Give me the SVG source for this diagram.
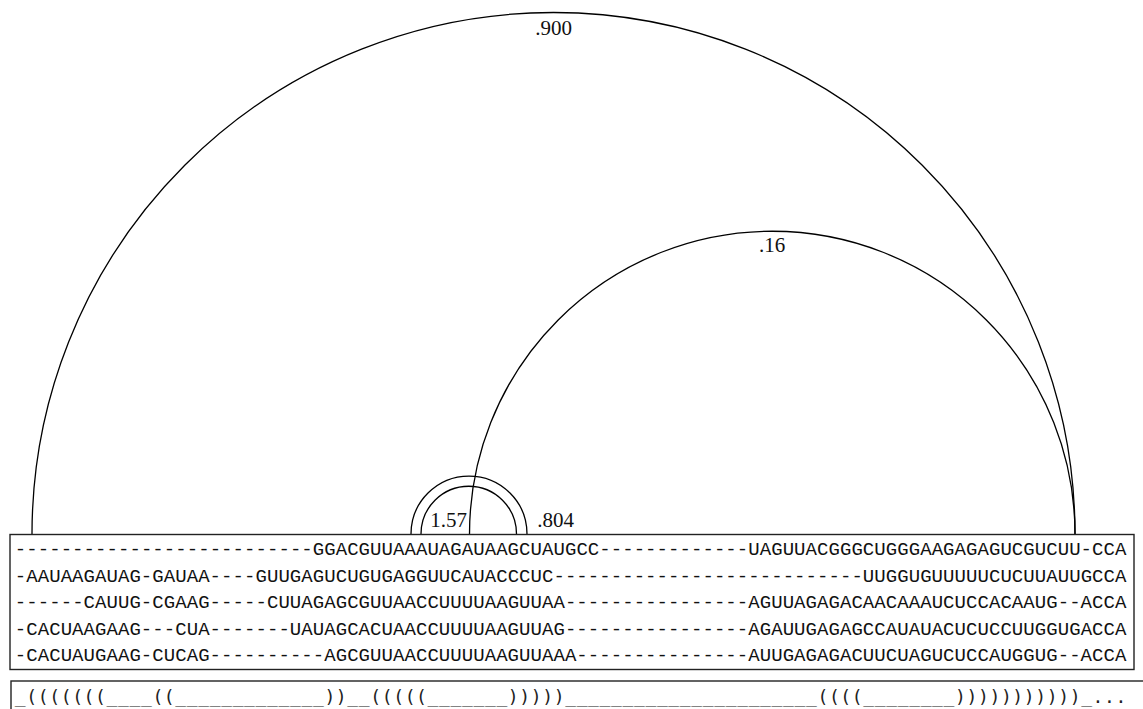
<svg xmlns="http://www.w3.org/2000/svg" width="1143" height="709" viewBox="0 0 1143 709">
<style>
.arc{fill:none;stroke:#000;stroke-width:1.3}
.lbl{font-family:"Liberation Serif","DejaVu Serif",serif;font-size:21px;fill:#111;text-anchor:middle}
.seq{font-family:"Liberation Mono","DejaVu Sans Mono",monospace;font-size:19px;fill:#111}
.ss{font-family:"DejaVu Sans Mono","Liberation Mono",monospace;font-size:18px;fill:#222}
.box{fill:none;stroke:#222;stroke-width:1.4}
</style>
<rect width="1143" height="709" fill="#fff"/>
<g id="connectors">
<path class="arc" d="M32 534 A521.5 521.5 0 0 1 1075 534"/>
<path class="arc" d="M469.5 534 A302.75 302.75 0 0 1 1075 534"/>
<path class="arc" d="M411 534 A58 58 0 0 1 527 534"/>
<path class="arc" d="M421 534 A47.75 47.75 0 0 1 516.5 534"/>
<text class="lbl" x="553.5" y="35">.900</text>
<text class="lbl" x="772" y="252">.16</text>
<text class="lbl" x="448.5" y="527">1.57</text>
<text class="lbl" x="555.5" y="527">.804</text>
</g>
<g id="alignment">
<rect class="box" x="10" y="534.5" width="1124" height="135"/>
<text class="seq" y="555"><tspan x="14.8" textLength="297.96" lengthAdjust="spacing">--------------------------</tspan><tspan x="312.76" textLength="286.5" lengthAdjust="spacing">GGACGUUAAAUAGAUAAGCUAUGCC</tspan><tspan x="599.26" textLength="148.98" lengthAdjust="spacing">-------------</tspan><tspan x="748.24" textLength="332.34" lengthAdjust="spacing">UAGUUACGGGCUGGGAAGAGAGUCGUCUU</tspan><tspan x="1080.58" textLength="11.46" lengthAdjust="spacing">-</tspan><tspan x="1092.04" textLength="34.38" lengthAdjust="spacing">CCA</tspan></text>
<text class="seq" y="581.5"><tspan x="14.8" textLength="11.46" lengthAdjust="spacing">-</tspan><tspan x="26.26" textLength="114.6" lengthAdjust="spacing">AAUAAGAUAG</tspan><tspan x="140.86" textLength="11.46" lengthAdjust="spacing">-</tspan><tspan x="152.32" textLength="57.3" lengthAdjust="spacing">GAUAA</tspan><tspan x="209.62" textLength="45.84" lengthAdjust="spacing">----</tspan><tspan x="255.46" textLength="297.96" lengthAdjust="spacing">GUUGAGUCUGUGAGGUUCAUACCCUC</tspan><tspan x="553.42" textLength="309.42" lengthAdjust="spacing">---------------------------</tspan><tspan x="862.84" textLength="263.58" lengthAdjust="spacing">UUGGUGUUUUUCUCUUAUUGCCA</tspan></text>
<text class="seq" y="608"><tspan x="14.8" textLength="68.76" lengthAdjust="spacing">------</tspan><tspan x="83.56" textLength="57.3" lengthAdjust="spacing">CAUUG</tspan><tspan x="140.86" textLength="11.46" lengthAdjust="spacing">-</tspan><tspan x="152.32" textLength="57.3" lengthAdjust="spacing">CGAAG</tspan><tspan x="209.62" textLength="57.3" lengthAdjust="spacing">-----</tspan><tspan x="266.92" textLength="297.96" lengthAdjust="spacing">CUUAGAGCGUUAACCUUUUAAGUUAA</tspan><tspan x="564.88" textLength="183.36" lengthAdjust="spacing">----------------</tspan><tspan x="748.24" textLength="309.42" lengthAdjust="spacing">AGUUAGAGACAACAAAUCUCCACAAUG</tspan><tspan x="1057.66" textLength="22.92" lengthAdjust="spacing">--</tspan><tspan x="1080.58" textLength="45.84" lengthAdjust="spacing">ACCA</tspan></text>
<text class="seq" y="634.5"><tspan x="14.8" textLength="11.46" lengthAdjust="spacing">-</tspan><tspan x="26.26" textLength="114.6" lengthAdjust="spacing">CACUAAGAAG</tspan><tspan x="140.86" textLength="34.38" lengthAdjust="spacing">---</tspan><tspan x="175.24" textLength="34.38" lengthAdjust="spacing">CUA</tspan><tspan x="209.62" textLength="80.22" lengthAdjust="spacing">-------</tspan><tspan x="289.84" textLength="275.04" lengthAdjust="spacing">UAUAGCACUAACCUUUUAAGUUAG</tspan><tspan x="564.88" textLength="183.36" lengthAdjust="spacing">----------------</tspan><tspan x="748.24" textLength="378.18" lengthAdjust="spacing">AGAUUGAGAGCCAUAUACUCUCCUUGGUGACCA</tspan></text>
<text class="seq" y="661"><tspan x="14.8" textLength="11.46" lengthAdjust="spacing">-</tspan><tspan x="26.26" textLength="114.6" lengthAdjust="spacing">CACUAUGAAG</tspan><tspan x="140.86" textLength="11.46" lengthAdjust="spacing">-</tspan><tspan x="152.32" textLength="57.3" lengthAdjust="spacing">CUCAG</tspan><tspan x="209.62" textLength="114.6" lengthAdjust="spacing">----------</tspan><tspan x="324.22" textLength="252.12" lengthAdjust="spacing">AGCGUUAACCUUUUAAGUUAAA</tspan><tspan x="576.34" textLength="171.9" lengthAdjust="spacing">---------------</tspan><tspan x="748.24" textLength="309.42" lengthAdjust="spacing">AUUGAGAGACUUCUAGUCUCCAUGGUG</tspan><tspan x="1057.66" textLength="22.92" lengthAdjust="spacing">--</tspan><tspan x="1080.58" textLength="45.84" lengthAdjust="spacing">ACCA</tspan></text>
</g>
<g id="structure">
<rect class="box" x="11" y="681" width="1150" height="60"/>
<text class="ss" x="14.8" y="703" textLength="1111.6" lengthAdjust="spacing">_(((((((____((_____________))__(((((_______)))))______________________((((________)))))))))))_...</text>
</g>
</svg>
